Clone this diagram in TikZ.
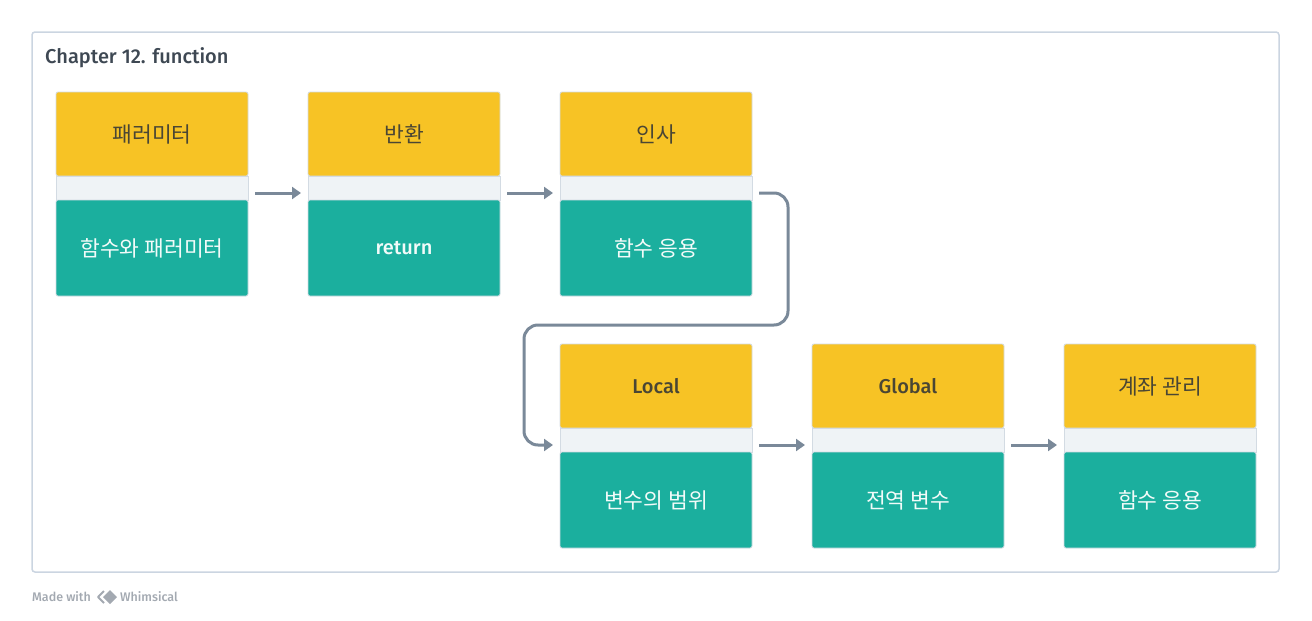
\documentclass[tikz,border=0pt]{standalone}
\usepackage{fontspec}
\setmainfont{Fira Sans}
\newfontfamily\medfont{Fira Sans Medium}
\newfontfamily\krfont{Noto Sans CJK KR}
\usetikzlibrary{positioning, arrows.meta, calc}

\definecolor{cardYellow}{HTML}{F7C325}
\definecolor{cardTeal}{HTML}{1BAF9E}
\definecolor{cardStrip}{HTML}{EFF3F6}
\definecolor{cardEdge}{HTML}{D3DBE3}
\definecolor{frameEdge}{HTML}{CBD5E1}
\definecolor{arrowGray}{HTML}{7A8999}
\definecolor{titleText}{HTML}{3E4853}
\definecolor{topText}{HTML}{4A4634}
\definecolor{botText}{HTML}{F2FBF9}
\definecolor{footText}{HTML}{A3A9B1}

\tikzset{
	topbox/.style={draw=cardEdge, line width=0.8pt, fill=cardYellow, rounded corners=2pt,
		minimum width=192pt, minimum height=84pt, inner sep=0pt, outer sep=0pt,
		font=\krfont\fontsize{21.5}{25}\selectfont, text=topText},
	stripbox/.style={draw=cardEdge, line width=0.8pt, fill=cardStrip,
		minimum width=192pt, minimum height=24pt, inner sep=0pt, outer sep=0pt},
	botbox/.style={draw=cardEdge, line width=0.8pt, fill=cardTeal, rounded corners=2pt,
		minimum width=192pt, minimum height=96pt, inner sep=0pt, outer sep=0pt,
		font=\krfont\fontsize{21.5}{25}\selectfont, text=botText},
	latin/.style={font=\medfont\fontsize{20}{24}\selectfont},
	flow/.style={draw=arrowGray, line width=3pt, -{Triangle[length=9pt,width=12pt]}}
}

\begin{document}
\begin{tikzpicture}[x=1pt, y=-1pt]

	\useasboundingbox (0,0) rectangle (1312,621);

	\def\gap{60pt}
	\def\lift{-5pt}

	% Frame
	\draw[draw=frameEdge, line width=1.5pt, fill=white, rounded corners=3pt] (32,32) rectangle (1279,572);
	\node[anchor=west, inner sep=0pt, text=titleText, font=\medfont\fontsize{20}{24}\selectfont] (title) at (45,58) {Chapter 12. function};

	% First row
	\node[topbox] (paramTop) at (152,134) {패러미터};
	\node[stripbox, below=0pt of paramTop] (paramMid) {};
	\node[botbox, below=0pt of paramMid] (paramBot) {함수와 패러미터};

	\node[topbox, right=\gap of paramTop] (returnTop) {반환};
	\node[stripbox, below=0pt of returnTop] (returnMid) {};
	\node[botbox, latin, below=0pt of returnMid] (returnBot) {return};

	\node[topbox, right=\gap of returnTop] (greetTop) {인사};
	\node[stripbox, below=0pt of greetTop] (greetMid) {};
	\node[botbox, below=0pt of greetMid] (greetBot) {함수 응용};

	% Second row
	\node[topbox, latin, below=48pt of greetBot] (localTop) {Local};
	\node[stripbox, below=0pt of localTop] (localMid) {};
	\node[botbox, below=0pt of localMid] (localBot) {변수의 범위};

	\node[topbox, latin, right=\gap of localTop] (globalTop) {Global};
	\node[stripbox, below=0pt of globalTop] (globalMid) {};
	\node[botbox, below=0pt of globalMid] (globalBot) {전역 변수};

	\node[topbox, right=\gap of globalTop] (bankTop) {계좌 관리};
	\node[stripbox, below=0pt of bankTop] (bankMid) {};
	\node[botbox, below=0pt of bankMid] (bankBot) {함수 응용};

	% Connectors
	\draw[flow] ([shift={(7pt,\lift)}]paramMid.east) -- ([shift={(-7pt,\lift)}]returnMid.west);
	\draw[flow] ([shift={(7pt,\lift)}]returnMid.east) -- ([shift={(-7pt,\lift)}]greetMid.west);

	\coordinate (loopRight) at (788,325);
	\coordinate (loopLeft) at (524,325);
	\draw[flow, rounded corners=14pt] ([shift={(7pt,\lift)}]greetMid.east) -| (loopRight) --
		(loopLeft) |- ([shift={(-7pt,\lift)}]localMid.west);

	\draw[flow] ([shift={(7pt,\lift)}]localMid.east) -- ([shift={(-7pt,\lift)}]globalMid.west);
	\draw[flow] ([shift={(7pt,\lift)}]globalMid.east) -- ([shift={(-7pt,\lift)}]bankMid.west);

	% Footer
	\node[anchor=west, inner sep=0pt, text=footText, font=\medfont\fontsize{12.5}{15}\selectfont] (madeWith) at (32,597) {Made with};
	\coordinate (logo) at (107,597);
	\draw[draw=footText, line width=2pt, line join=round] ($(logo)+(-3,-6)$) -- ($(logo)+(-9,0)$) -- ($(logo)+(-3,6)$);
	\fill[footText] ($(logo)+(3,-7)$) -- ($(logo)+(10,0)$) -- ($(logo)+(3,7)$) -- ($(logo)+(-4,0)$) -- cycle;
	\node[anchor=west, inner sep=0pt, text=footText, font=\medfont\fontsize{12.5}{15}\selectfont] (whimsical) at (120,597) {Whimsical};

\end{tikzpicture}
\end{document}
